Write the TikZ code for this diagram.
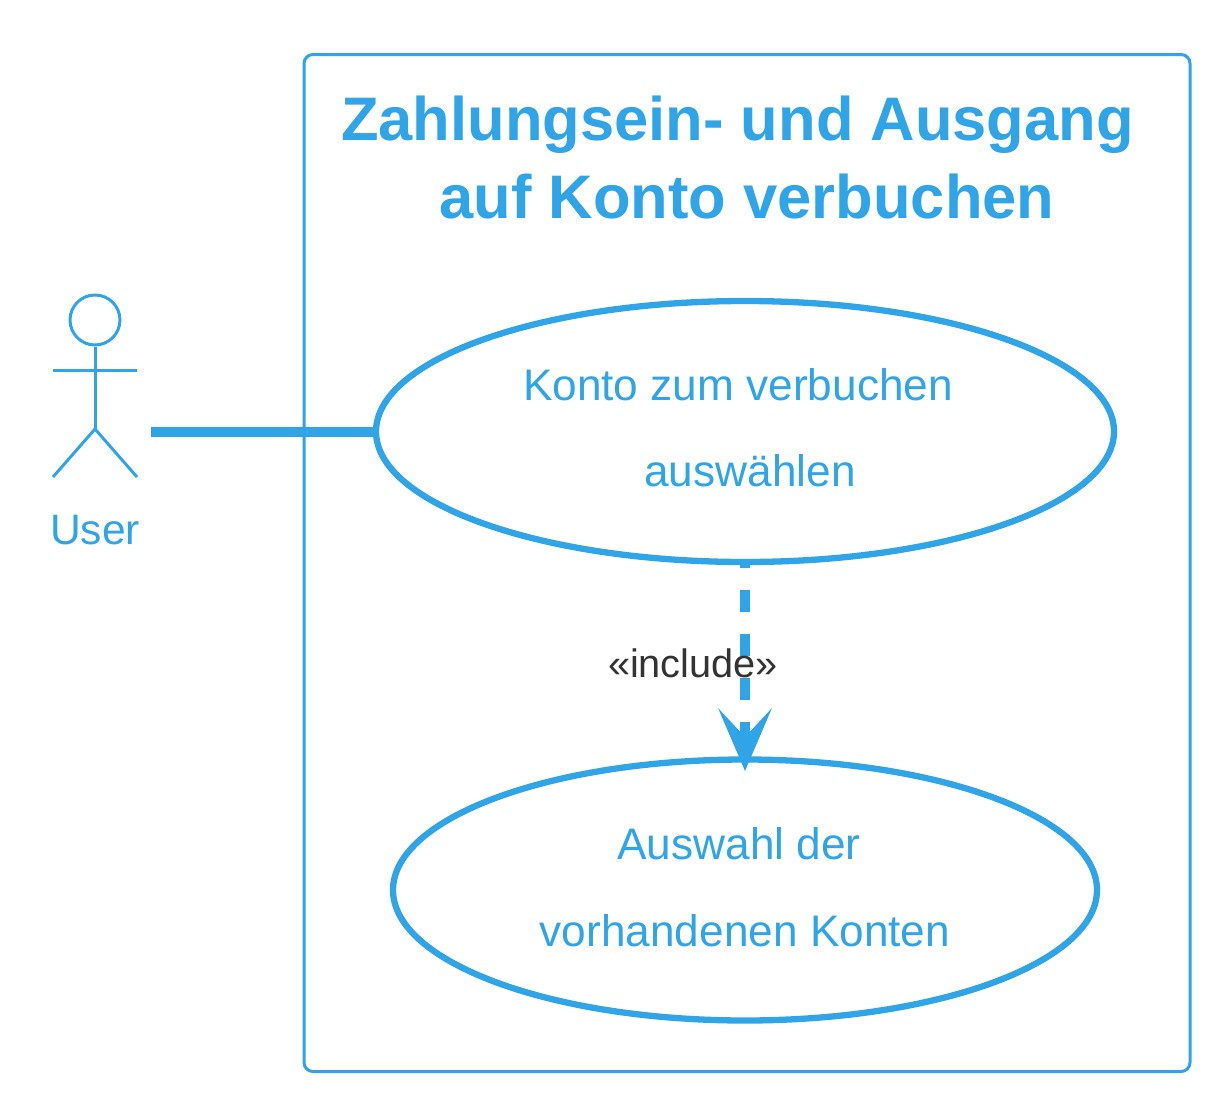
\documentclass[tikz,border=0pt]{standalone}
\usepackage{fontspec}
\setmainfont{Liberation Sans}
\usetikzlibrary{shapes.geometric}
\definecolor{umlblue}{HTML}{2FA4E7}
\definecolor{umlink}{HTML}{333333}
\tikzset{
  x=1pt,y=-1pt,
  sysbox/.style={draw=umlblue,line width=3pt,rounded corners=9pt},
  usecase/.style={draw=umlblue,line width=6.3pt,ellipse,inner sep=0pt},
  lbl/.style={text=umlblue,font=\fontsize{44.2}{44}\selectfont,inner sep=0pt,anchor=base},
  ttl/.style={text=umlblue,font=\fontsize{61.5}{61}\selectfont\bfseries,inner sep=0pt,anchor=base},
  stick/.style={draw=umlblue,line width=3pt},
  conn/.style={draw=umlblue,line width=10pt},
  incl/.style={draw=umlblue,line width=9.5pt,dash pattern=on 22pt off 22pt,dash phase=19pt},
}
\begin{document}
\begin{tikzpicture}
\useasboundingbox (0,0) rectangle (1221,1103);
\node[sysbox,minimum width=886pt,minimum height=1017pt,inner sep=0pt] (sys) at (747,563) {};
\node[ttl] (t1) at (737.5,140) {Zahlungsein- und Ausgang};
\node[ttl] (t2) at (747,218) {auf Konto verbuchen};
\node[usecase,minimum width=738pt,minimum height=261pt] (uc1) at (745,431.5) {};
\node[usecase,minimum width=704pt,minimum height=261pt] (uc2) at (745,890) {};
\node[lbl] (u1a) at (738,400) {Konto zum verbuchen};
\node[lbl] (u1b) at (750,486) {auswählen};
\node[lbl] (u2a) at (739,859) {Auswahl der};
\node[lbl] (u2b) at (745,946) {vorhandenen Konten};
\node[stick,circle,minimum size=50pt,inner sep=0pt] (head) at (95,320) {};
\coordinate (hip) at (95,429);
\coordinate (armL) at (53,370);
\coordinate (armR) at (137,370);
\coordinate (footL) at (53,477);
\coordinate (footR) at (137,477);
\draw[stick] (head.south) -- (hip);
\draw[stick] (armL) -- (armR);
\draw[stick] (footL) -- (hip) -- (footR);
\node[lbl,font=\fontsize{42.6}{43}\selectfont] (user) at (95,544) {User};
\coordinate (ustart) at (151,431.5);
\draw[conn] (ustart) -- (uc1.west);
\coordinate (a) at (745,742);
\draw[incl] (uc1.south) -- (a);
\coordinate (tip) at (745,771);
\coordinate (wl) at (718,708);
\coordinate (wr) at (772,708);
\coordinate (nk) at (745,737);
\fill[umlblue] (tip) -- (wl) -- (nk) -- (wr) -- cycle;
\node[font=\fontsize{39.7}{40}\selectfont,text=umlink,inner sep=0pt,anchor=base] (inc) at (693,677) {«include»};
\end{tikzpicture}
\end{document}
